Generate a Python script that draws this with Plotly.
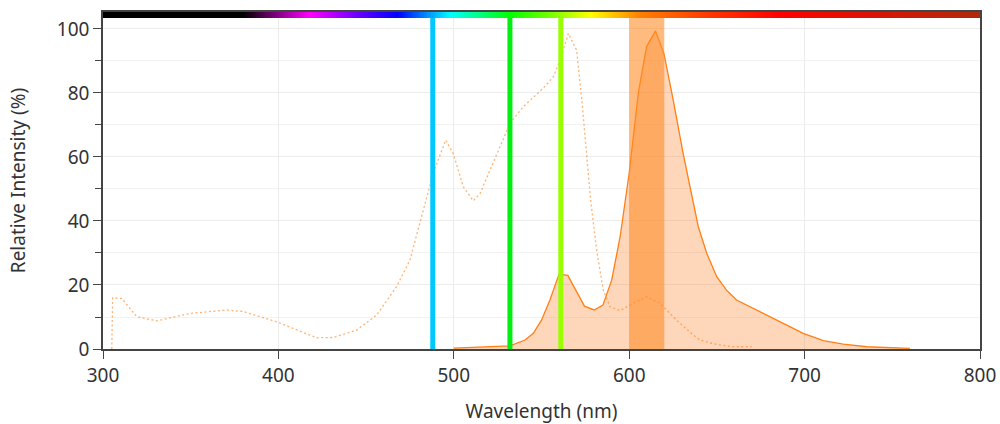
import plotly.graph_objects as go
import numpy as np

# Emission spectrum (solid, filled)
em_wl = [500, 532, 540.6, 545.3, 550, 554.8, 560, 565, 574.5, 580, 585, 590, 594.8,
         600, 605.2, 609.9, 615, 619.8, 625.1, 630.8, 639.4, 644.2, 649.9, 655.5, 661.2,
         668.8, 682.1, 689.7, 699.2, 710.7, 722, 735.4, 760]
em_val = [0.3, 1, 2.8, 4.9, 9, 15.3, 23.4, 23, 13.4, 12.2, 13.7, 21.5, 35,
          55, 80, 94.5, 99.4, 92.3, 77.8, 61, 38.2, 29.9, 22.6, 18.4, 15.3,
          13.2, 9.5, 7.5, 4.9, 2.6, 1.5, 0.7, 0.2]

# Excitation spectrum (dotted)
ex_wl = [305, 305.5, 310.7, 319.2, 330.6, 349.6, 370.5, 380, 399, 421.8, 431.3, 444.6, 456,
         467.4, 475, 488.3, 495.4, 499.7, 505.4, 511.1, 515, 524.5, 532, 539.6, 551, 556.7,
         560.6, 565.3, 570, 573, 575.7, 578, 581.4, 585.2, 589, 594.8, 602.4, 610, 617.6,
         627, 636.5, 640.4, 649.9, 659.3, 669.8]
ex_val = [0, 16, 15.8, 10.1, 8.8, 11.1, 12.2, 11.7, 8.5, 3.5, 3.6, 5.9, 10.6,
          19.5, 27.8, 55, 65.3, 61, 50.7, 46.3, 48.6, 61, 70.5, 75.7, 81.5, 85,
          90.3, 98.6, 93.4, 77.8, 62, 46.6, 31, 18.4, 13.2, 12, 14.3, 16.3, 14.3,
          9, 4.4, 2.8, 1.4, 0.7, 0.7]

# Laser lines
laser_wl = [488, 532, 561]
laser_colors = ["#00c8ff", "#00ee10", "#99ff00"]

# Detection band
band_lo, band_hi = 600, 620

# Spectrum color bar
spec_stops_wl = [300, 380, 418, 445, 468, 498, 532, 560, 578, 606, 645, 686, 800]
spec_stops_col = ["#000000", "#000000", "#ff00ff", "#6a00ff", "#0000ff", "#00ffff", "#00ff00",
                  "#90ff00", "#ffff00", "#ff8000", "#ff3800", "#ff0000", "#b02a0a"]

y_max = 105.3
bar_lo, bar_hi = 103.4, 105.3

fig = go.Figure()

# spectrum bar heatmap
xs = np.arange(300, 801, 1)
zc = [[(a + b) / 2 for a, b in zip(xs[:-1], xs[1:])]]
cs = [[(w - 300) / 500, c] for w, c in zip(spec_stops_wl, spec_stops_col)]
fig.add_trace(go.Heatmap(x=xs, y=[bar_lo, bar_hi], z=zc, colorscale=cs, zmin=300, zmax=800,
                         showscale=False, hoverinfo="skip"))

# emission fill
fig.add_trace(go.Scatter(x=em_wl, y=em_val, mode="lines", fill="tozeroy",
                         line=dict(color="#ff7f15", width=1.3),
                         fillcolor="rgba(252,140,60,0.35)", showlegend=False))

# excitation dotted
fig.add_trace(go.Scatter(x=ex_wl, y=ex_val, mode="lines",
                         line=dict(color="rgba(255,127,21,0.6)", width=1.3, dash="2px,2.5px"),
                         showlegend=False))

# band
fig.add_trace(go.Scatter(x=[band_lo, band_lo, band_hi, band_hi, band_lo],
                         y=[0, bar_lo, bar_lo, 0, 0], mode="lines", fill="toself",
                         line=dict(width=0), fillcolor="rgba(255,140,40,0.6)", showlegend=False))

# laser lines
for wl, c in zip(laser_wl, laser_colors):
    fig.add_trace(go.Scatter(x=[wl, wl], y=[0, bar_lo], mode="lines",
                             line=dict(color=c, width=5), showlegend=False))

fig.update_layout(
    width=1000, height=424,
    margin=dict(l=103, r=20, t=12, b=75),
    paper_bgcolor="white", plot_bgcolor="white",
    font=dict(family="Noto Sans", color="#333333"),
    showlegend=False,
)
fig.update_xaxes(range=[300, 800], tickvals=[300, 400, 500, 600, 700, 800],
                 ticks="outside", ticklen=8, tickcolor="#444", showline=True, linecolor="#444",
                 linewidth=1.5, mirror=True, showgrid=True, gridcolor="#ececec",
                 tickfont=dict(size=19), zeroline=False, automargin=False,
                 title=dict(text="Wavelength (nm)", font=dict(size=19), standoff=30))
fig.update_yaxes(range=[0, y_max], tickvals=[0, 20, 40, 60, 80, 100],
                 ticks="outside", ticklen=8, tickcolor="#444", showline=True, linecolor="#444",
                 linewidth=1.5, mirror=True, showgrid=True, gridcolor="#ececec",
                 tickfont=dict(size=19), zeroline=False, automargin=False,
                 minor=dict(tickvals=[10, 30, 50, 70, 90], ticks="outside", ticklen=6,
                            tickcolor="#444", showgrid=True, gridcolor="#f2f2f2"),
                 title=dict(text="Relative Intensity (%)", font=dict(size=19), standoff=26))

fig.write_html("out.html", config={"displayModeBar": False},
               post_script="document.body.style.margin='0';")
